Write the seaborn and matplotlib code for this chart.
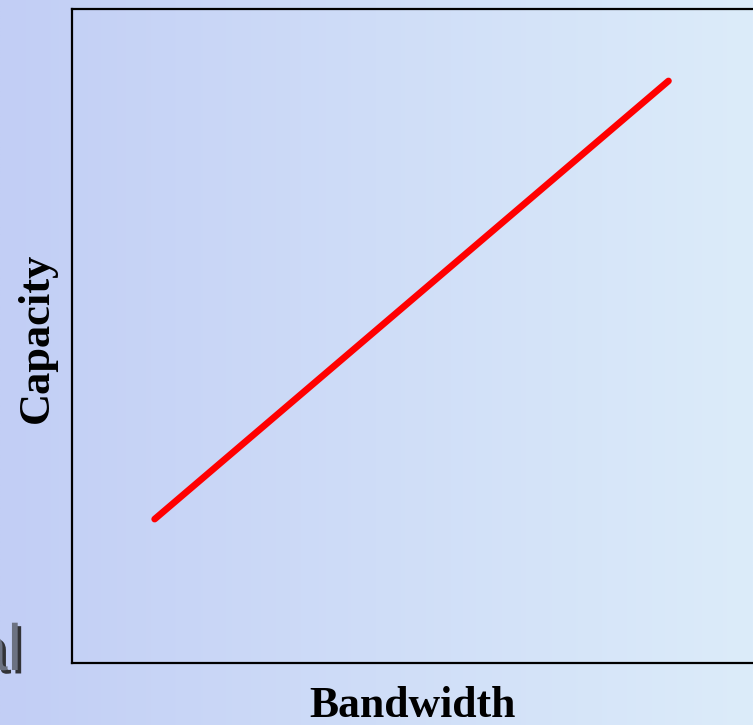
import numpy as np
import pandas as pd
import matplotlib
matplotlib.use("Agg")
import matplotlib.pyplot as plt
import matplotlib.patheffects as pe
import seaborn as sns

# Data
bandwidth = [1.15, 8.3]
capacity = [2.2, 8.9]
x_label = "Bandwidth"
y_label = "Capacity"

sns.set_style("white")

W, H = 753, 725
fig = plt.figure(figsize=(W / 100, H / 100), dpi=100)

# textured-looking background approximated by a soft gradient
bg = fig.add_axes([0, 0, 1, 1], zorder=0)
gx = np.linspace(0, 1, 256)[None, :, None]
left_c = np.array([194, 206, 245]) / 255
right_c = np.array([220, 236, 250]) / 255
img = left_c * (1 - gx) + right_c * gx
img = np.repeat(img, 16, axis=0)
bg.imshow(img, aspect="auto", extent=[0, 1, 0, 1], interpolation="bilinear")
bg.set_axis_off()

ax = fig.add_axes([72 / W, 1 - 663 / H, 1.05 - 72 / W, (663 - 9) / H], zorder=1)
ax.set_facecolor("none")
df = pd.DataFrame({x_label: bandwidth, y_label: capacity})
sns.lineplot(data=df, x=x_label, y=y_label, ax=ax, color="#ff0000",
             linewidth=4.8, solid_capstyle="round")
ax.set_xlim(0, 10)
ax.set_ylim(0, 10)
ax.set_xticks([])
ax.set_yticks([])
ax.set_xlabel("")
ax.set_ylabel("")
for s in ["left", "top", "bottom", "right"]:
    ax.spines[s].set_color("black")
    ax.spines[s].set_linewidth(1.6)

fig.text(413 / W, 1 - 706 / H, x_label, ha="center", va="center",
         fontsize=31.5, fontweight="bold", family="Liberation Serif", color="black")
fig.text(37 / W, 1 - 338 / H, y_label, ha="center", va="center", rotation=90,
         fontsize=32, fontweight="bold", family="Liberation Serif", color="black")

# partial slide text at left edge
fig.text(22 / W, 1 - 670 / H, "al", ha="right", va="baseline", fontsize=47,
         family="Liberation Sans", color="#6c7282",
         path_effects=[pe.withSimplePatchShadow(offset=(2.5, -2.5), shadow_rgbFace="#222222", alpha=0.9)])

fig.savefig("out.png", dpi=100)
